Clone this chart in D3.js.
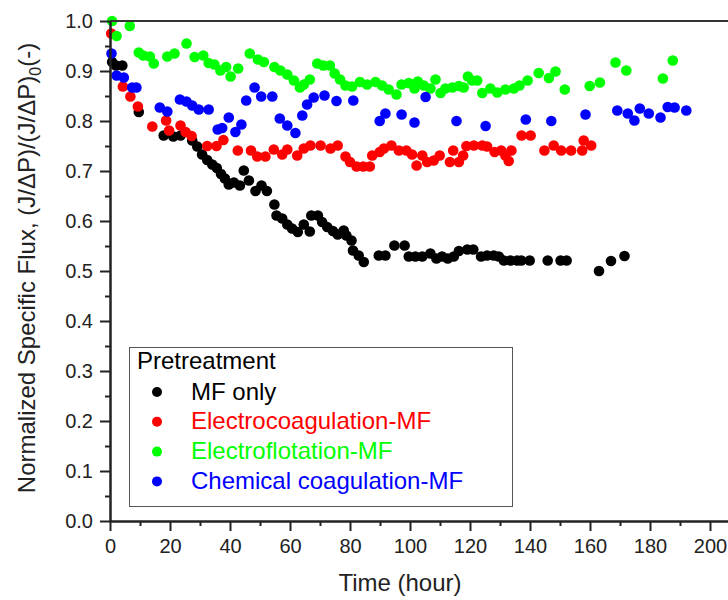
<!DOCTYPE html>
<html>
<head>
<meta charset="utf-8">
<script src="https://cdn.jsdelivr.net/npm/d3@7"></script>
<style>
  body { margin: 0; background: #ffffff; }
  svg text { font-family: "Liberation Sans", Arial, sans-serif; }
</style>
</head>
<body>
<div id="chart"></div>
<script>
// MF only
var mfTime = [0.7, 2.0, 4.1, 9.6, 17.9, 21.1, 23.5, 27.4, 29.1, 30.7, 32.4, 34.1, 35.6, 37.0, 38.3, 39.6, 41.3, 43.3, 44.6, 46.3,
    48.5, 50.5, 52.3, 54.8, 55.5, 57.4, 59.1, 60.7, 62.6, 64.6, 66.6, 67.1, 69.3, 70.7, 72.4, 74.3, 75.9, 77.9, 78.8, 80.5,
    81.0, 82.9, 84.6, 89.6, 91.8, 94.8, 98.2, 99.6, 101.8, 104.1, 106.8, 108.8, 110.7, 112.6, 114.6, 116.3, 119.1, 121.1, 123.7, 125.7,
    127.9, 129.6, 131.3, 133.5, 135.7, 137.1, 139.9, 145.9, 150.2, 152.2, 163.0, 167.0, 171.5];
var mfFlux = [0.918, 0.911, 0.911, 0.818, 0.771, 0.769, 0.771, 0.761, 0.749, 0.733, 0.722, 0.713, 0.706, 0.694, 0.685, 0.673, 0.677, 0.671, 0.701, 0.681,
    0.660, 0.671, 0.660, 0.633, 0.611, 0.605, 0.593, 0.585, 0.578, 0.593, 0.579, 0.611, 0.611, 0.598, 0.588, 0.580, 0.573, 0.581, 0.571, 0.561,
    0.541, 0.531, 0.518, 0.531, 0.531, 0.551, 0.551, 0.529, 0.529, 0.529, 0.535, 0.525, 0.529, 0.525, 0.529, 0.540, 0.543, 0.543, 0.529, 0.531,
    0.531, 0.529, 0.521, 0.521, 0.521, 0.521, 0.521, 0.521, 0.521, 0.521, 0.500, 0.520, 0.530];

// Electrocoagulation-MF
var ecTime = [0.4, 4.3, 6.8, 9.3, 14.1, 18.7, 19.7, 23.5, 25.2, 27.2, 32.4, 35.5, 37.8, 42.6, 47.0, 49.1, 51.8, 54.6, 57.4, 59.1,
    62.4, 64.6, 66.8, 70.2, 73.5, 75.9, 78.5, 80.0, 82.2, 84.4, 86.6, 87.4, 89.9, 91.3, 93.8, 96.3, 98.8, 100.7, 102.2, 104.1,
    105.7, 107.9, 109.9, 113.3, 114.4, 116.3, 117.7, 118.8, 121.3, 124.1, 125.7, 128.2, 130.4, 131.8, 132.9, 133.8, 137.2, 140.2, 144.8, 147.9,
    150.4, 153.7, 157.4, 157.9, 160.4];
var ecFlux = [0.975, 0.869, 0.849, 0.829, 0.789, 0.801, 0.781, 0.791, 0.778, 0.770, 0.750, 0.750, 0.762, 0.741, 0.741, 0.729, 0.729, 0.743, 0.733, 0.743,
    0.731, 0.745, 0.751, 0.751, 0.745, 0.751, 0.729, 0.718, 0.709, 0.709, 0.709, 0.731, 0.738, 0.745, 0.751, 0.741, 0.741, 0.733, 0.711, 0.731,
    0.718, 0.721, 0.731, 0.718, 0.741, 0.718, 0.731, 0.750, 0.751, 0.751, 0.749, 0.738, 0.741, 0.731, 0.720, 0.741, 0.771, 0.771, 0.741, 0.751,
    0.741, 0.741, 0.741, 0.761, 0.751];

// Electroflotation-MF
var efTime = [0.7, 2.2, 6.6, 9.6, 11.1, 13.3, 14.6, 19.1, 21.5, 25.5, 28.2, 31.1, 32.9, 34.8, 36.8, 38.7, 40.2, 42.7, 46.6, 49.3,
    51.3, 54.8, 56.8, 59.1, 61.3, 63.3, 64.6, 66.6, 69.1, 71.1, 73.3, 74.9, 76.7, 78.5, 80.7, 83.3, 85.7, 88.5, 90.7, 92.9,
    95.5, 97.2, 99.6, 101.5, 102.6, 104.6, 106.8, 108.5, 110.2, 111.8, 114.1, 116.3, 117.9, 119.3, 120.7, 122.4, 124.1, 126.8, 129.1, 131.8,
    134.6, 136.5, 139.2, 142.9, 146.3, 148.5, 151.6, 159.9, 163.3, 168.5, 172.1, 184.3, 187.6];
var efFlux = [1.000, 0.970, 0.990, 0.937, 0.931, 0.929, 0.915, 0.929, 0.935, 0.955, 0.928, 0.931, 0.916, 0.913, 0.901, 0.908, 0.889, 0.905, 0.935, 0.923,
    0.918, 0.908, 0.901, 0.893, 0.881, 0.867, 0.873, 0.883, 0.915, 0.911, 0.911, 0.895, 0.883, 0.871, 0.869, 0.878, 0.873, 0.878, 0.871, 0.863,
    0.853, 0.873, 0.876, 0.865, 0.879, 0.871, 0.865, 0.883, 0.856, 0.865, 0.867, 0.870, 0.867, 0.889, 0.881, 0.881, 0.856, 0.865, 0.857, 0.863,
    0.865, 0.871, 0.881, 0.896, 0.886, 0.899, 0.863, 0.870, 0.877, 0.917, 0.901, 0.885, 0.921];

// Chemical coagulation-MF
var ccTime = [0.5, 2.2, 4.6, 7.4, 8.8, 16.6, 19.1, 23.3, 25.5, 27.4, 29.6, 32.9, 35.9, 37.4, 39.6, 41.8, 43.8, 45.4, 48.2, 50.4,
    54.1, 56.6, 59.1, 61.8, 64.1, 65.7, 67.9, 71.5, 75.5, 81.1, 89.9, 91.8, 97.2, 101.5, 105.2, 115.5, 125.2, 138.6, 147.1, 158.5,
    169.1, 172.6, 174.8, 176.6, 179.6, 183.5, 185.9, 188.2, 192.1];
var ccFlux = [0.935, 0.891, 0.887, 0.867, 0.867, 0.827, 0.819, 0.843, 0.839, 0.831, 0.823, 0.823, 0.783, 0.786, 0.807, 0.778, 0.793, 0.841, 0.867, 0.849,
    0.849, 0.805, 0.791, 0.776, 0.811, 0.833, 0.847, 0.851, 0.840, 0.841, 0.800, 0.815, 0.813, 0.797, 0.848, 0.800, 0.790, 0.803, 0.800, 0.813,
    0.821, 0.815, 0.801, 0.825, 0.815, 0.807, 0.828, 0.827, 0.821];

var seriesNames = ["MF only", "Electrocoagulation-MF", "Electroflotation-MF", "Chemical coagulation-MF"];
var seriesColors = ["#000000", "#ff0000", "#00ff00", "#0000ff"];
var seriesTime = [mfTime, ecTime, efTime, ccTime];
var seriesFlux = [mfFlux, ecFlux, efFlux, ccFlux];

var xMajorTicks = [0, 20, 40, 60, 80, 100, 120, 140, 160, 180, 200];
var xMinorTicks = [10, 30, 50, 70, 90, 110, 130, 150, 170, 190, 210];
var yMajorTicks = [0, 0.1, 0.2, 0.3, 0.4, 0.5, 0.6, 0.7, 0.8, 0.9, 1.0];
var yMinorTicks = [0.05, 0.15, 0.25, 0.35, 0.45, 0.55, 0.65, 0.75, 0.85, 0.95];

drawChart();

function drawChart() {
    var w = 728, h = 600;
    var left = 110, right = 740, top = 21, bottom = 521;
    var svg = d3.select("#chart").append("svg").attr("width", w).attr("height", h).style("background", "#ffffff");

    var xscale = d3.scaleLinear().domain([0, 210]).range([left, right]);
    var yscale = d3.scaleLinear().domain([0, 1]).range([bottom, top]);

    // points
    for (var s = 0; s < seriesNames.length; s++) {
        var pts = seriesTime[s].map(function (t, i) { return {t: t, v: seriesFlux[s][i]}; });
        svg.append("g").selectAll("circle").data(pts).enter().append("circle")
            .attr("cx", function (d) { return xscale(d.t); })
            .attr("cy", function (d) { return yscale(d.v); })
            .attr("r", 5.3)
            .attr("fill", seriesColors[s]);
    }

    // frame top line
    svg.append("line").attr("x1", left).attr("x2", right).attr("y1", top).attr("y2", top)
        .attr("stroke", "#333").attr("stroke-width", 2);

    // axes
    svg.append("g").attr("transform", "translate(0," + bottom + ")")
        .call(d3.axisBottom(xscale).tickValues(xMajorTicks).tickSize(10).tickSizeOuter(0).tickPadding(8).tickFormat(d3.format("d")));
    svg.append("g").attr("transform", "translate(0," + bottom + ")")
        .call(d3.axisBottom(xscale).tickValues(xMinorTicks).tickSize(5).tickSizeOuter(0).tickFormat(""));
    svg.append("g").attr("transform", "translate(" + left + ",0)")
        .call(d3.axisLeft(yscale).tickValues(yMajorTicks).tickSize(10).tickSizeOuter(0).tickPadding(7).tickFormat(d3.format(".1f")));
    svg.append("g").attr("transform", "translate(" + left + ",0)")
        .call(d3.axisLeft(yscale).tickValues(yMinorTicks).tickSize(5).tickSizeOuter(0).tickFormat(""));

    svg.selectAll(".domain").attr("stroke", "#222").attr("stroke-width", 2);
    svg.selectAll(".tick line").attr("stroke", "#222").attr("stroke-width", 2);
    svg.selectAll(".tick text").attr("font-family", "Liberation Sans, Arial, sans-serif")
        .attr("font-size", 20).attr("fill", "#222");

    // axis titles
    svg.append("text").attr("x", 400).attr("y", 591).attr("text-anchor", "middle")
        .attr("font-size", 24).attr("fill", "#222").text("Time (hour)");

    var yl = svg.append("text").attr("transform", "translate(35,268) rotate(-90)")
        .attr("text-anchor", "middle").attr("font-size", 24).attr("fill", "#222");
    yl.append("tspan").text("Normalized Specific Flux, (J/\u0394P)/(J/\u0394P)");
    yl.append("tspan").attr("font-size", 16).attr("dy", 6).text("0");
    yl.append("tspan").attr("dy", -6).text("(-)");

    // legend
    var lg = svg.append("g");
    lg.append("rect").attr("x", 129.5).attr("y", 347.5).attr("width", 383).attr("height", 159)
        .attr("fill", "#ffffff").attr("stroke", "#555").attr("stroke-width", 1);
    lg.append("text").attr("x", 137).attr("y", 369).attr("font-size", 24).attr("fill", "#000").text("Pretreatment");
    lg.selectAll("circle").data(seriesNames).enter().append("circle")
        .attr("cx", 157).attr("cy", function (d, i) { return 392 + i * 29.8; })
        .attr("r", 5).attr("fill", function (d, i) { return seriesColors[i]; });
    lg.selectAll(".lbl").data(seriesNames).enter().append("text").attr("class", "lbl")
        .attr("x", 191).attr("y", function (d, i) { return 399.5 + i * 29.8; })
        .attr("font-size", 24).attr("fill", function (d, i) { return seriesColors[i]; })
        .text(function (d) { return d; });
}
</script>
</body>
</html>
